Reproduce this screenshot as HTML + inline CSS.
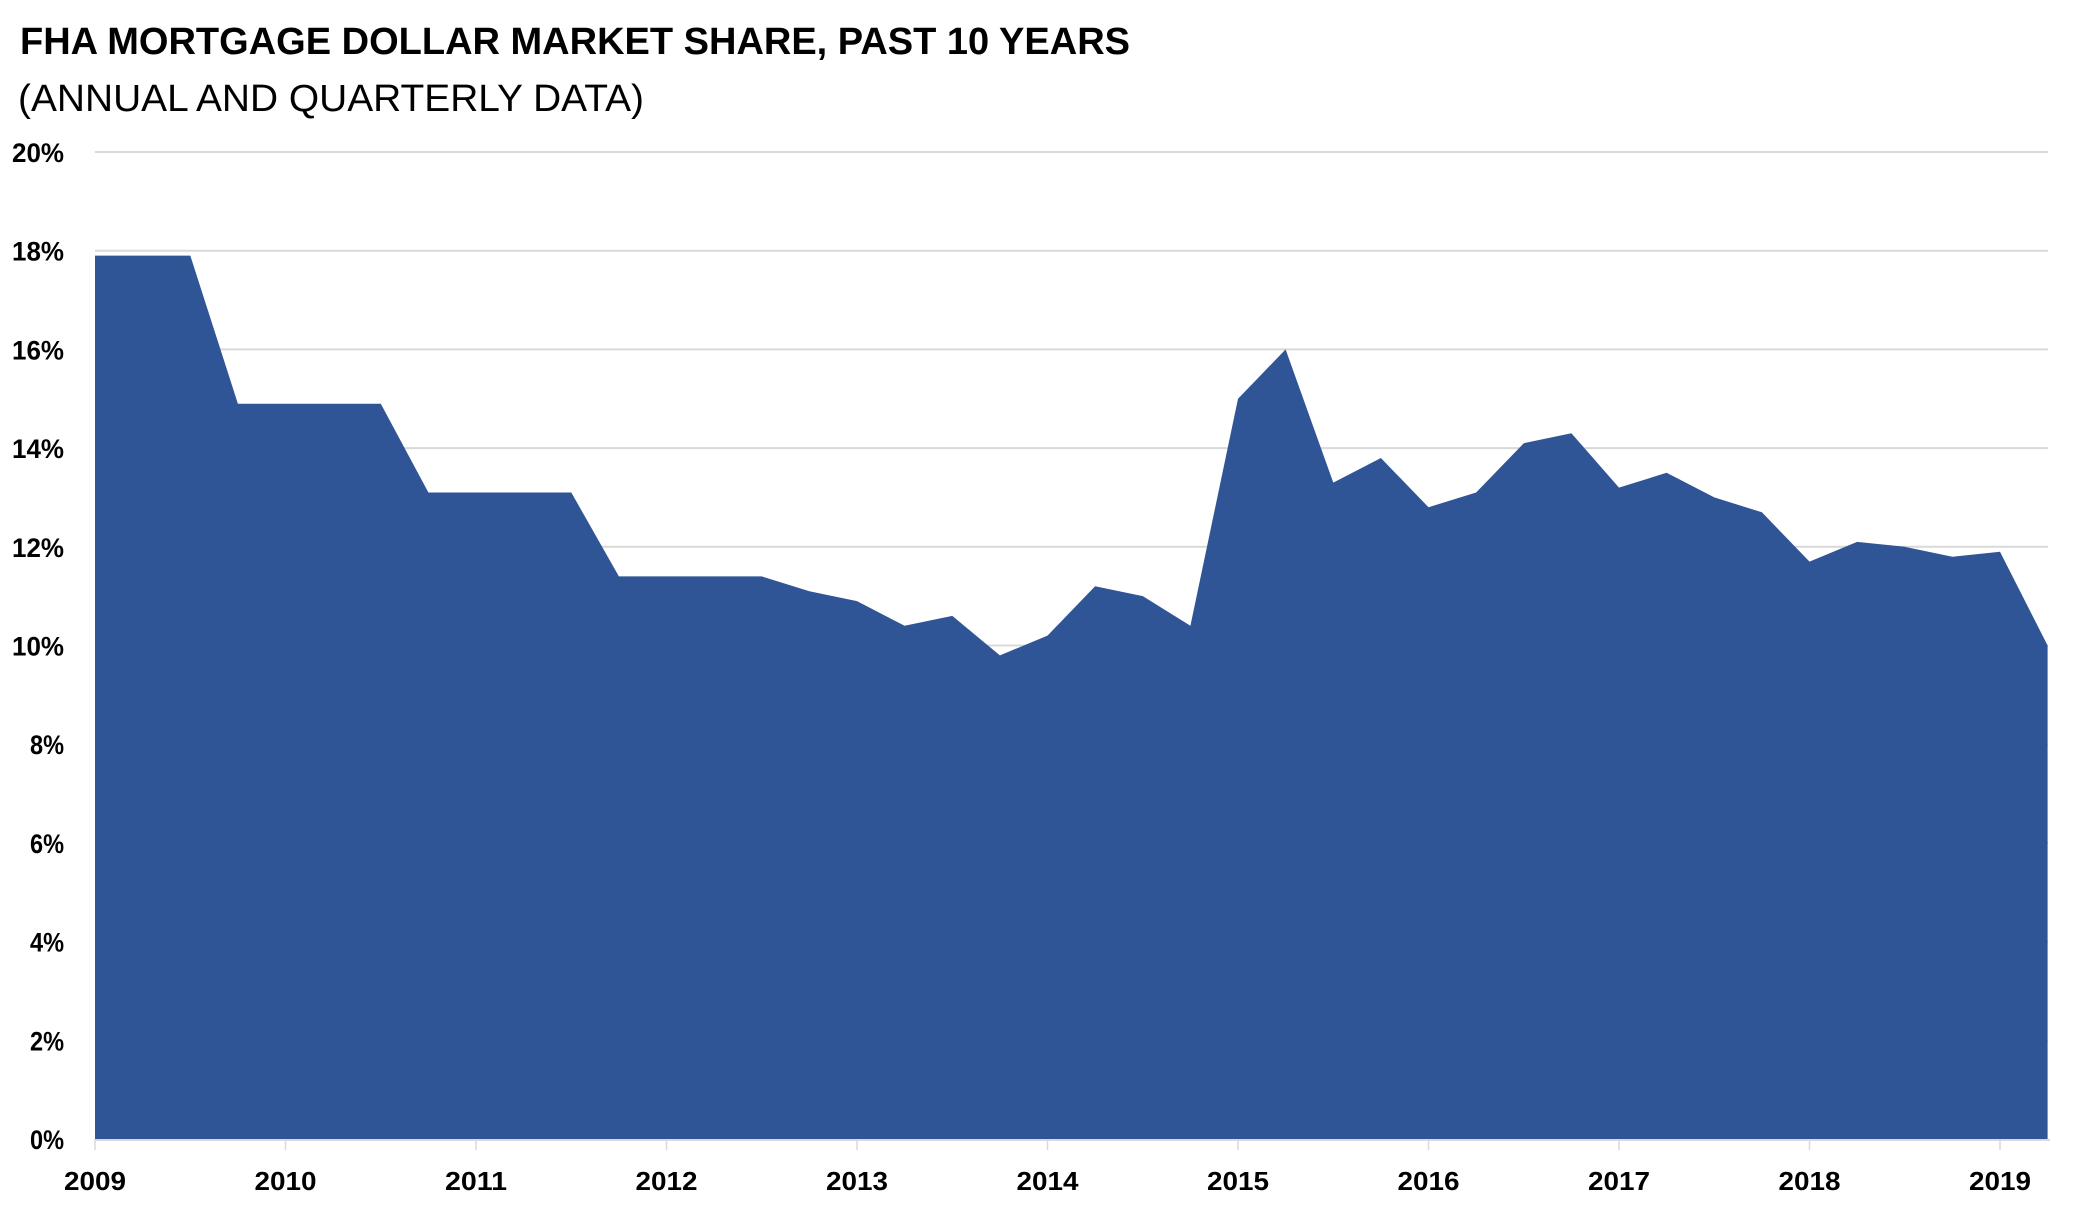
<!DOCTYPE html>
<html><head><meta charset="utf-8"><style>
html,body{margin:0;padding:0;background:#fff;}
svg{display:block;}
</style></head><body>
<svg id="c" width="2095" height="1207" xmlns="http://www.w3.org/2000/svg" font-family="'Liberation Sans', sans-serif">
<text x="20" y="54" font-size="38" font-weight="bold" textLength="1110" lengthAdjust="spacingAndGlyphs" fill="#000">FHA MORTGAGE DOLLAR MARKET SHARE, PAST 10 YEARS</text>
<text x="18" y="111" font-size="38" textLength="626" lengthAdjust="spacingAndGlyphs" fill="#000">(ANNUAL AND QUARTERLY DATA)</text>
<g id="grid"></g>
<path id="area" fill="#2f5597"/>
<g id="labels"></g>
</svg>
<script>
var L=95,R=2050,Y0=1139,PP=49.35,YR=190.5;
var ns="http://www.w3.org/2000/svg";
function el(t,a,p,txt){var e=document.createElementNS(ns,t);for(var k in a)e.setAttribute(k,a[k]);if(txt!==undefined)e.textContent=txt;p.appendChild(e);return e;}
var g=document.getElementById('grid'),lb=document.getElementById('labels');
for(var i=0;i<=10;i++){var y=Y0-i*2*PP;
 if(i>0)el('line',{x1:L,x2:R-2,y1:y,y2:y,stroke:'#d9d9d9','stroke-width':2},g);
 el('text',{x:64,y:y+10,'text-anchor':'end','font-size':27,'font-weight':'bold',textLength:(i*2>=10?52:34),lengthAdjust:'spacingAndGlyphs'},lb,(i*2)+'%');}
el('line',{x1:L,x2:R,y1:Y0+1,y2:Y0+1,stroke:'#d9d9d9','stroke-width':2},g);
for(var yy=0;yy<=10;yy++){var x=L+yy*YR;
 el('line',{x1:x,x2:x,y1:Y0,y2:Y0+11,stroke:'#d9d9d9','stroke-width':1.5},g);
 el('text',{x:x,y:1190,'text-anchor':'middle','font-size':26,'font-weight':'bold',textLength:62,lengthAdjust:'spacingAndGlyphs'},lb,String(2009+yy));}
var d=[17.9,17.9,17.9,14.9,14.9,14.9,14.9,13.1,13.1,13.1,13.1,11.4,11.4,11.4,11.4,11.1,10.9,10.4,10.6,9.8,10.2,11.2,11.0,10.4,15.0,16.0,13.3,13.8,12.8,13.1,14.1,14.3,13.2,13.5,13.0,12.7,11.7,12.1,12.0,11.8,11.9,10.0];
var p='M'+L+','+Y0;
for(var j=0;j<d.length;j++){p+=' L'+(L+j*YR/4).toFixed(1)+','+(Y0-d[j]*PP).toFixed(1);}
p+=' L'+(L+(d.length-1)*YR/4).toFixed(1)+','+Y0+' Z';
document.getElementById('area').setAttribute('d',p);
</script>
</body></html>
